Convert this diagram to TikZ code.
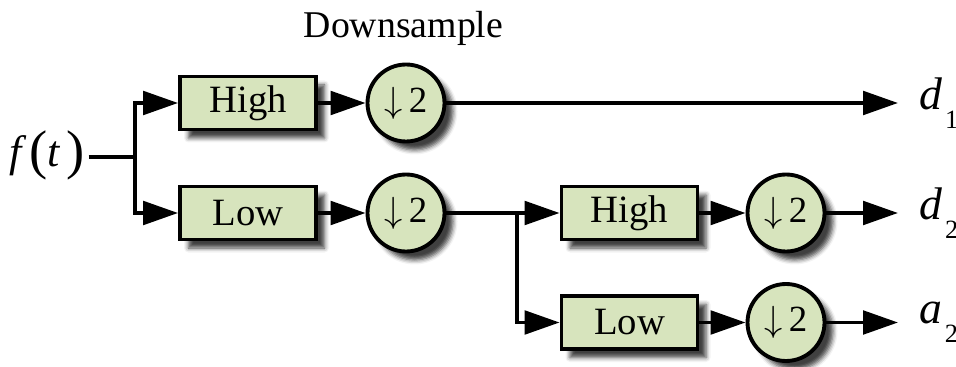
\documentclass[tikz,border=0pt]{standalone}
\usepackage{fontspec}
\setmainfont{Liberation Serif}
\usepackage{tikz}
\usetikzlibrary{arrows.meta,shadows.blur}

\definecolor{filtgreen}{RGB}{215,228,189}

\tikzset{
	sig/.style={line width=2.2pt},
	arr/.style={sig,-{Triangle[length=0.7cm,width=0.47cm]}},
	boxshadow/.style={blur shadow={shadow xshift=0.17cm,shadow yshift=-0.17cm,shadow opacity=75,shadow blur radius=0.09cm}},
	filt/.style={draw,line width=2.2pt,fill=filtgreen,minimum width=2.72cm,minimum height=1.06cm,inner sep=0pt,font=\fontsize{22}{22}\selectfont,boxshadow},
	down/.style={circle,draw,line width=2.2pt,fill=filtgreen,minimum size=1.54cm,inner sep=0pt,font=\fontsize{21}{21}\selectfont,boxshadow},
	outlab/.style={anchor=west,inner xsep=0.42cm,inner ysep=0.05cm,font=\fontsize{26}{26}\selectfont}
}
\newcommand{\outsub}[2]{\textit{#1}\kern0.06em\raisebox{-0.42em}{\fontsize{15}{15}\selectfont #2}}

\begin{document}
\begin{tikzpicture}
		\useasboundingbox (0,0) rectangle (19.12,-7.34);
		\node[font=\fontsize{21.5}{21.5}\selectfont] (title) at (8.07,-0.56) {Downsample};
		\node[inner sep=0.08cm] (ft) at (0.94,-3.1) {{\fontsize{25}{25}\selectfont\textit{f}}\kern1.5pt\raisebox{-0.08em}{\fontsize{31}{31}\selectfont(}{\fontsize{25}{25}\selectfont\textit{t}}\kern3pt\raisebox{-0.08em}{\fontsize{31}{31}\selectfont)}};
		\coordinate (split1) at (2.7,-3.14);
		\coordinate (split2) at (10.34,-4.26);
		% first level
		\node[filt] (high1) at (4.96,-2.06) {High};
		\node[filt] (low1) at (4.96,-4.26) {Low};
		\node[down] (c1) at (8.12,-2.06) {$\downarrow$\,2};
		\node[down] (c2) at (8.12,-4.26) {$\downarrow$\,2};
		% second level
		\node[filt] (high2) at (12.59,-4.26) {High};
		\node[filt] (low2) at (12.59,-6.45) {Low};
		\node[down] (c3) at (15.72,-4.26) {$\downarrow$\,2};
		\node[down] (c4) at (15.72,-6.45) {$\downarrow$\,2};
		% outputs
		\node[outlab] (d1) at (17.96,-2.06) {\outsub{d}{1}};
		\node[outlab] (d2) at (17.96,-4.26) {\outsub{d}{2}};
		\node[outlab] (a2) at (17.96,-6.45) {\outsub{a}{2}};
		\draw[sig] (ft.east |- split1) -- (split1);
		\draw[arr] (split1) |- (high1);
		\draw[arr] (split1) |- (low1);
		\draw[arr] (high1) -- (c1);
		\draw[arr] (low1) -- (c2);
		\draw[arr] (c1) -- (d1);
		\draw[sig] (c2) -- (split2);
		\draw[arr] (split2) -- (high2);
		\draw[arr] (split2) |- (low2);
		\draw[arr] (high2) -- (c3);
		\draw[arr] (low2) -- (c4);
		\draw[arr] (c3) -- (d2);
		\draw[arr] (c4) -- (a2);
\end{tikzpicture}
\end{document}
